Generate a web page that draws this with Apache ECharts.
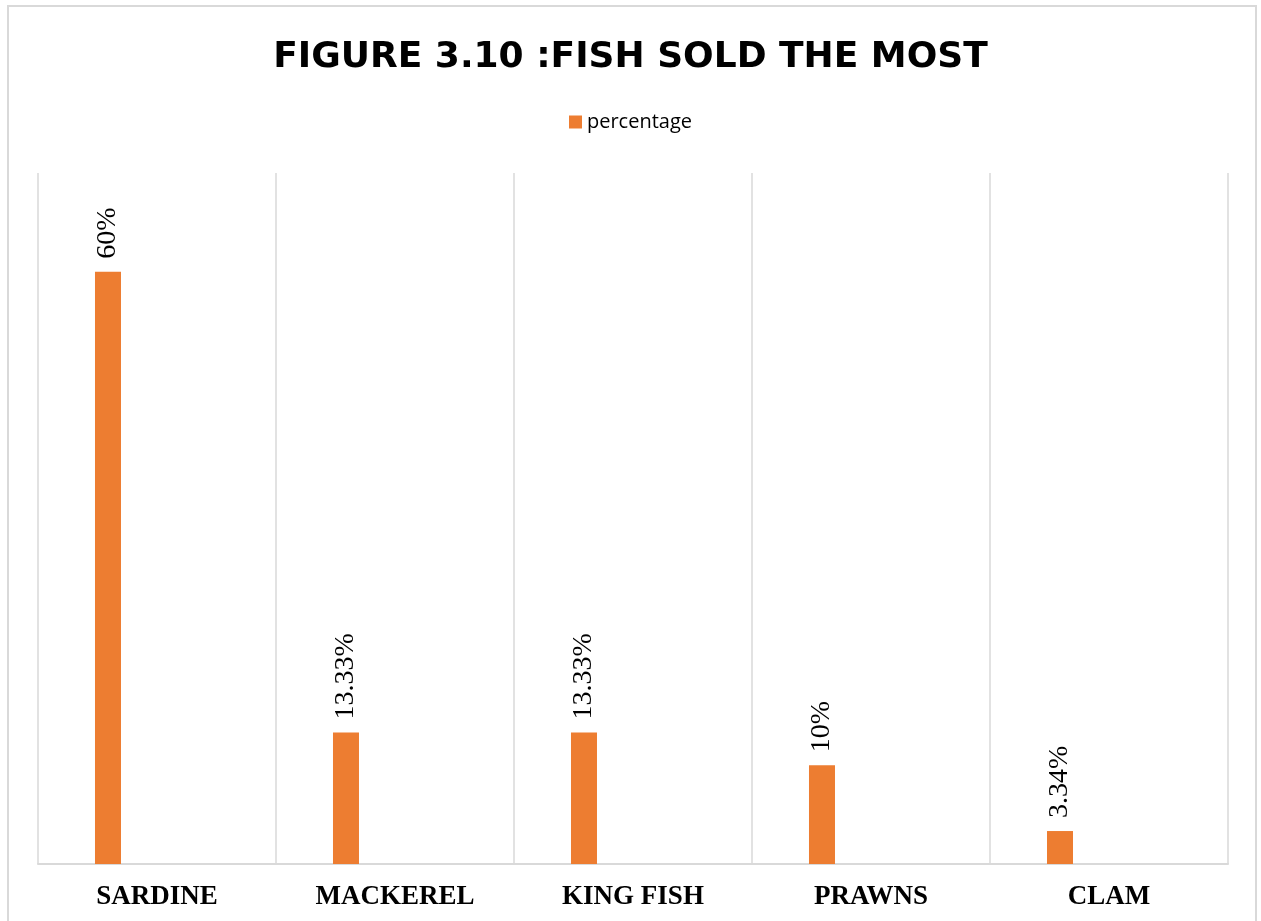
<!DOCTYPE html>
<html>
<head>
<meta charset="utf-8">
<title>Fish sold the most</title>
<script src="https://cdn.jsdelivr.net/npm/echarts@6/dist/echarts.min.js"></script>
<style>
  html, body { margin: 0; padding: 0; background: #ffffff; }
  #chart { width: 1261px; height: 921px; }
</style>
</head>
<body>
<div id="chart"></div>
<script>
// Fish varieties and the share of sales each one takes
const categories = ['SARDINE', 'MACKEREL', 'KING FISH', 'PRAWNS', 'CLAM'];
const percentage = [60, 13.33, 13.33, 10, 3.34];
const titleText = 'FIGURE 3.10 :FISH SOLD THE MOST';
const seriesName = 'percentage';

const chart = echarts.init(document.getElementById('chart'), null, { renderer: 'canvas' });

chart.setOption({
  backgroundColor: '#ffffff',
  animation: false,
  title: {
    text: titleText,
    left: 'center',
    top: 40,
    padding: 0,
    textStyle: {
      fontFamily: 'DejaVu Sans',
      fontWeight: 'bold',
      fontSize: 36,
      color: '#000000'
    }
  },
  legend: {
    data: [seriesName],
    left: 'center',
    top: 107,
    icon: 'rect',
    itemWidth: 13,
    itemHeight: 13,
    itemGap: 10,
    textStyle: {
      fontFamily: 'Open Sans',
      fontSize: 20,
      color: '#000000'
    }
  },
  graphic: [{
    type: 'rect',
    silent: true,
    z: -10,
    shape: { x: 8, y: 6, width: 1248, height: 940 },
    style: { fill: 'none', stroke: '#d9d9d9', lineWidth: 2 }
  }],
  grid: {
    left: 38,
    right: 33,
    top: 173,
    bottom: 57,
    containLabel: false
  },
  xAxis: {
    type: 'category',
    data: categories,
    boundaryGap: true,
    axisLine: { show: true, lineStyle: { color: '#d9d9d9', width: 2 } },
    axisTick: { show: false },
    splitLine: { show: true, lineStyle: { color: '#d9d9d9', width: 1.5 } },
    axisLabel: {
      margin: 20,
      fontFamily: 'Liberation Serif',
      fontWeight: 'bold',
      fontSize: 27,
      color: '#000000'
    }
  },
  yAxis: {
    type: 'value',
    min: 0,
    max: 70,
    interval: 10,
    axisLine: { show: false },
    axisTick: { show: false },
    axisLabel: { show: false },
    splitLine: { show: false }
  },
  series: [
    {
      name: seriesName,
      type: 'bar',
      data: percentage,
      barWidth: 26,
      barGap: '277%',
      itemStyle: { color: '#ED7D31' },
      label: {
        show: true,
        position: 'top',
        distance: 13,
        rotate: 90,
        align: 'left',
        verticalAlign: 'middle',
        formatter: '{c}%',
        fontFamily: 'Liberation Serif',
        fontSize: 28,
        color: '#000000'
      }
    },
    {
      name: 'spacer',
      type: 'bar',
      data: [],
      barWidth: 26
    }
  ]
});
</script>
</body>
</html>
